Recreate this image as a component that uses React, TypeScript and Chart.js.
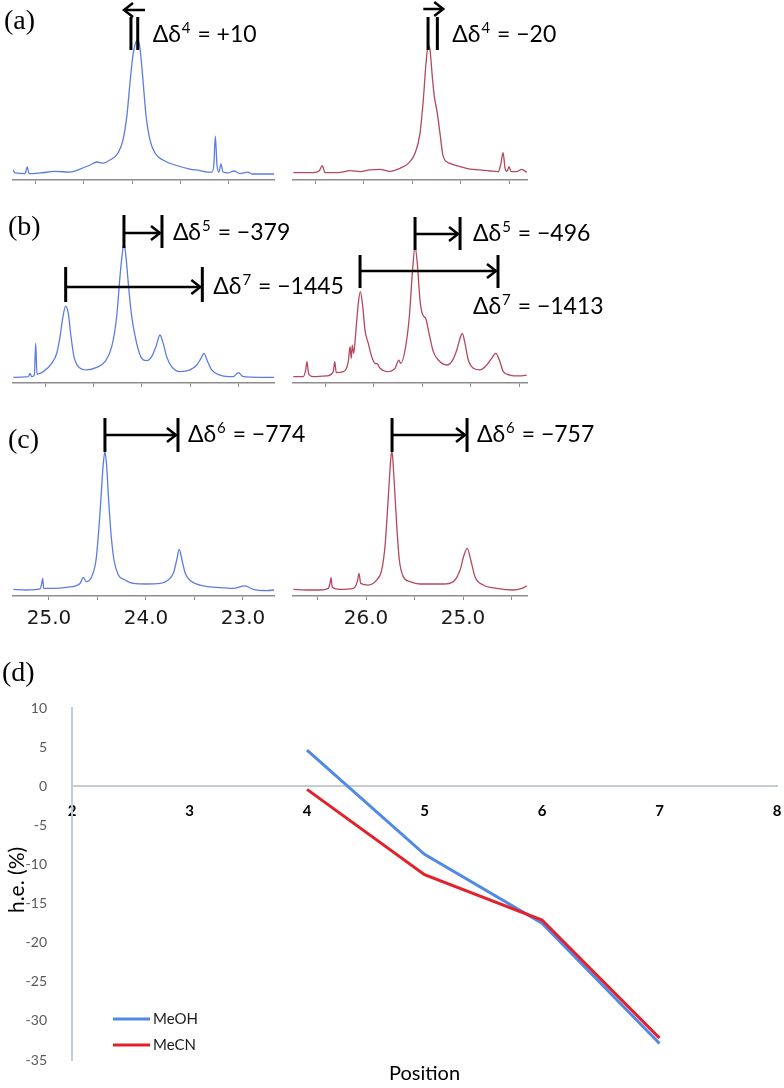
import React, { useEffect, useRef } from 'react';
import { Chart, registerables } from 'chart.js';

Chart.register(...registerables);

// ---------------- DATA ----------------
// (a) spectra: chemical shift (ppm) vs intensity (% of panel height)
const aBluePpm = [20.227, 20.206, 20.103, 20.080, 20.062, 19.949, 19.794, 19.639, 19.536, 19.433, 19.361, 19.299, 19.227, 19.144, 19.093, 19.052, 19.021, 18.990, 18.959, 18.938, 18.918, 18.887, 18.856, 18.815, 18.763, 18.681, 18.557, 18.402, 18.299, 18.227, 18.175, 18.155, 18.141, 18.124, 18.103, 18.083, 18.062, 18.010, 17.949, 17.887, 17.804, 17.763, 17.536];
const aBlueInt = [6.7, 4.7, 4.3, 8.7, 4.3, 4.7, 5.7, 5.3, 7.3, 10, 12, 11.3, 13.3, 18, 26.7, 43.3, 64.7, 83.3, 92, 93.3, 88, 66.7, 43.3, 26.7, 18, 13.3, 10, 7.3, 6.3, 5.3, 5.3, 11.3, 29.3, 10, 5.3, 10.7, 5.3, 4.7, 6, 4.3, 5.3, 4, 4];
const aRedPpm = [21.224, 21.018, 20.956, 20.925, 20.897, 20.742, 20.639, 20.536, 20.433, 20.330, 20.227, 20.124, 20.038, 19.969, 19.918, 19.884, 19.856, 19.832, 19.815, 19.791, 19.770, 19.739, 19.712, 19.678, 19.608, 19.505, 19.402, 19.299, 19.196, 19.111, 19.083, 19.062, 19.041, 19.021, 19.000, 18.980, 18.921, 18.869, 18.818];
const aRedInt = [4.9, 4.9, 6.2, 9.6, 4.9, 5.1, 6.2, 5.6, 6.7, 7.1, 5.8, 7.8, 11.1, 17.8, 31.1, 53.3, 77.8, 90, 86.7, 68.9, 55.6, 44.4, 31.1, 15.6, 11.1, 8.9, 7.3, 6.7, 6, 5.6, 11.1, 18.2, 7.8, 5.8, 8.9, 5.6, 5.6, 7.1, 5.1];

// (b) spectra
const bBluePpm = [30.327, 30.172, 30.155, 30.137, 30.110, 30.096, 30.083, 30.018, 29.931, 29.879, 29.845, 29.818, 29.787, 29.760, 29.732, 29.701, 29.657, 29.570, 29.467, 29.382, 29.312, 29.261, 29.227, 29.203, 29.186, 29.165, 29.141, 29.106, 29.055, 29.003, 28.952, 28.900, 28.856, 28.815, 28.781, 28.746, 28.694, 28.608, 28.505, 28.436, 28.392, 28.361, 28.327, 28.282, 28.196, 28.059, 28.007, 27.956, 27.784, 27.639];
const bBlueInt = [3.8, 4.2, 6.4, 4.2, 5.3, 26.4, 5.8, 7.6, 13.1, 19.8, 30.9, 43.1, 51.3, 46.4, 30.9, 17.6, 10.9, 8.7, 10.4, 14.2, 24.2, 44.2, 70.9, 86.4, 93.1, 84.2, 66.4, 44.2, 26.4, 16.4, 14.9, 17.6, 24.2, 32, 26.4, 17.6, 10.9, 7.6, 8.7, 12, 16.4, 19.8, 14.9, 8.7, 5.3, 4.2, 6.9, 4.2, 3.8, 3.8];
const bRedPpm = [31.327, 31.224, 31.199, 31.186, 31.168, 31.121, 30.983, 30.915, 30.900, 30.884, 30.811, 30.760, 30.742, 30.729, 30.719, 30.704, 30.681, 30.657, 30.636, 30.611, 30.588, 30.554, 30.519, 30.485, 30.461, 30.433, 30.364, 30.278, 30.240, 30.220, 30.175, 30.131, 30.100, 30.072, 30.049, 30.021, 29.993, 29.962, 29.928, 29.884, 29.832, 29.745, 29.684, 29.642, 29.608, 29.585, 29.557, 29.523, 29.471, 29.402, 29.333, 29.282, 29.240, 29.203, 29.162, 29.093, 28.990, 28.921];
const bRedInt = [4.2, 4.2, 8.7, 14.2, 6, 4.2, 4.7, 7.6, 14.2, 6.9, 7.6, 14.2, 24.2, 16.4, 25.3, 19.8, 35.3, 53.1, 60.9, 50.9, 35.3, 26.4, 17.6, 13.1, 12.7, 9.8, 7.6, 9.8, 15.3, 13.1, 22, 44.2, 73.1, 90.9, 79.8, 55.3, 45.3, 43.1, 33.1, 20.9, 15.3, 12, 15.3, 22, 29.8, 33.1, 26.4, 15.3, 9.8, 8.7, 12, 16.4, 19.8, 15.3, 7.6, 5.3, 4.7, 5.3];

// (c) spectra
const cBluePpm = [25.368, 25.230, 25.093, 25.075, 25.065, 25.055, 24.956, 24.817, 24.680, 24.646, 24.618, 24.560, 24.515, 24.484, 24.461, 24.440, 24.423, 24.405, 24.385, 24.361, 24.330, 24.285, 24.216, 24.131, 23.993, 23.856, 23.770, 23.718, 23.683, 23.657, 23.629, 23.595, 23.529, 23.409, 23.271, 23.100, 22.979, 22.894, 22.756, 22.680];
const cBlueInt = [4.4, 4, 4.7, 8.4, 11.8, 5.1, 5.1, 5.8, 8.4, 12.4, 9.6, 12.9, 24, 46.2, 68.4, 88.4, 96.2, 86.2, 64, 41.8, 24, 14, 10.7, 8.4, 8, 8.4, 10.7, 15.1, 24, 31.1, 24, 15.1, 9.6, 6.7, 5.8, 5.1, 6.7, 4.4, 3.6, 4];
const cRedPpm = [26.750, 26.612, 26.475, 26.389, 26.372, 26.361, 26.348, 26.268, 26.131, 26.090, 26.073, 26.055, 25.977, 25.890, 25.839, 25.805, 25.781, 25.760, 25.743, 25.732, 25.719, 25.701, 25.681, 25.657, 25.616, 25.547, 25.444, 25.307, 25.204, 25.100, 25.031, 24.990, 24.956, 24.921, 24.877, 24.791, 24.653, 24.482, 24.395, 24.344];
const cRedInt = [4.4, 4, 4, 5.1, 8.4, 12.2, 5.8, 4.4, 5.1, 9.6, 15.1, 8.4, 7.3, 10.7, 17.3, 32.9, 55.1, 77.3, 92.9, 96.2, 86.2, 66.2, 44, 24, 12.9, 9.6, 8, 8, 8, 9.6, 17.3, 27.3, 31.8, 24, 12.9, 7.3, 5.1, 4, 5.1, 6.7];

// axis ranges and tick values (ppm)
const aBlueRange = [17.536, 20.227];
const aRedRange = [18.815, 21.227];
const bBlueRange = [27.639, 30.330];
const bRedRange = [28.918, 31.330];
const cBlueRange = [22.680, 25.371];
const cRedRange = [24.341, 26.753];
const aBlueTicks = [20.0, 19.5, 19.0, 18.5, 18.0];
const aRedTicks = [21.0, 20.5, 20.0, 19.5, 19.0];
const bBlueTicks = [30.0, 29.5, 29.0, 28.5, 28.0];
const bRedTicks = [31.0, 30.5, 30.0, 29.5, 29.0];
const cBlueTicks = [25.0, 24.5, 24.0, 23.5, 23.0];
const cRedTicks = [26.5, 26.0, 25.5, 25.0, 24.5];

// shift annotations: marker positions (ppm) and labels
const aBlueMarks = [19.011, 18.941];
const aBlueArrow = [18.866, 19.103];
const aRedMarks = [19.835, 19.739];
const aRedArrow = [19.884, 19.658];
const bBlueMarks5 = [29.186, 28.794];
const bBlueMarks7 = [29.787, 28.378];
const bRedMarks5 = [30.072, 29.608];
const bRedMarks7 = [30.639, 29.217];
const cBlueMarks6 = [24.423, 23.670];
const cRedMarks6 = [25.732, 24.959];
const shiftSup = ['4', '4', '5', '7', '5', '7', '6', '6'];
const shiftValues = [' = +10', ' = \u221220', ' = \u2212379', ' = \u22121445', ' = \u2212496', ' = \u22121413', ' = \u2212774', ' = \u2212757'];

// (d) heavy-atom effect vs position
const positions = [4, 5, 6, 7];
const meohValues = [4.6, -8.7, -17.5, -32.9];
const mecnValues = [-0.4, -11.3, -17.1, -32.2];
const seriesNames = ['MeOH', 'MeCN'];
const yAxisTitle = 'h.e. (%)';

// ---------------- STYLE ----------------
const BLUE_SPEC = '#5b7de2';
const RED_SPEC = '#b4485f';
const LABEL_FONT = '23px Lato, "Noto Sans", sans-serif';
const SUP_FONT = '15px Lato, "Noto Sans", sans-serif';

type Shift = {
  bars: number[];
  arrow: number[];
  barTop: number;
  barBottom: number;
  arrowY: number;
  sup: string;
  value: string;
  labelDx: number;
  labelY: number;
};

function shiftPlugin(shifts: Shift[]) {
  return {
    id: 'shiftMarks',
    afterDatasetsDraw(chart: any) {
      const { ctx, chartArea } = chart;
      const sx = chart.scales.x;
      const top = chartArea.top;
      ctx.save();
      ctx.strokeStyle = '#000';
      ctx.fillStyle = '#000';
      ctx.lineCap = 'butt';
      shifts.forEach((s) => {
        const bx = s.bars.map((b) => sx.getPixelForValue(b));
        ctx.lineWidth = 3;
        bx.forEach((px) => {
          ctx.beginPath();
          ctx.moveTo(px, top + s.barTop);
          ctx.lineTo(px, top + s.barBottom);
          ctx.stroke();
        });
        const a0 = sx.getPixelForValue(s.arrow[0]);
        const a1 = sx.getPixelForValue(s.arrow[1]);
        const dir = a1 > a0 ? 1 : -1;
        const tip = a1 - dir * 2;
        const ay = top + s.arrowY;
        ctx.lineWidth = 2.5;
        ctx.beginPath();
        ctx.moveTo(a0, ay);
        ctx.lineTo(tip, ay);
        ctx.stroke();
        ctx.beginPath();
        ctx.moveTo(tip - dir * 9, ay - 7);
        ctx.lineTo(tip, ay);
        ctx.lineTo(tip - dir * 9, ay + 7);
        ctx.stroke();
        let lx = Math.max(...bx) + s.labelDx;
        const ly = top + s.labelY;
        ctx.textBaseline = 'middle';
        ctx.textAlign = 'left';
        ctx.font = LABEL_FONT;
        ctx.fillText('\u0394\u03b4', lx, ly);
        lx += ctx.measureText('\u0394\u03b4').width + 1;
        ctx.font = SUP_FONT;
        ctx.fillText(s.sup, lx, ly - 7);
        lx += ctx.measureText(s.sup).width + 1;
        ctx.font = LABEL_FONT;
        ctx.fillText(s.value, lx, ly);
      });
      ctx.restore();
    },
  };
}

type SpecCfg = {
  ppm: number[];
  int: number[];
  range: number[];
  ticks: number[];
  color: string;
  left: number;
  top: number;
  w: number;
  h: number;
  pad: { left: number; right: number; top: number; bottom: number };
  xh: number;
  labels: boolean;
  shifts: Shift[];
};

function Spectrum({ cfg }: { cfg: SpecCfg }) {
  const ref = useRef<HTMLCanvasElement>(null);
  useEffect(() => {
    const chart = new Chart(ref.current as HTMLCanvasElement, {
      type: 'line',
      data: {
        datasets: [
          {
            data: cfg.ppm.map((p, i) => ({ x: p, y: cfg.int[i] })),
            borderColor: cfg.color,
            borderWidth: 1.3,
            pointRadius: 0,
            cubicInterpolationMode: 'monotone',
            fill: false,
          } as any,
        ],
      },
      options: {
        responsive: false,
        animation: false,
        events: [],
        layout: { padding: cfg.pad, autoPadding: false },
        plugins: { legend: { display: false }, tooltip: { enabled: false } },
        scales: {
          x: {
            type: 'linear',
            reverse: true,
            min: cfg.range[0],
            max: cfg.range[1],
            position: 'bottom',
            afterBuildTicks: (s: any) => {
              s.ticks = cfg.ticks.map((v) => ({ value: v }));
            },
            afterFit: (s: any) => {
              s.height = cfg.xh;
              s.paddingLeft = 0;
              s.paddingRight = 0;
            },
            grid: { drawOnChartArea: false, drawTicks: true, tickLength: 4, color: '#8c8c8c', lineWidth: 1 },
            border: { display: true, color: '#8c8c8c', width: 1.5 },
            ticks: {
              display: cfg.labels,
              padding: 7,
              autoSkip: false,
              maxRotation: 0,
              color: '#1a1a1a',
              font: { family: '"DejaVu Sans", Verdana, sans-serif', size: 20 },
              callback: (v: any) => (Math.abs(Number(v) % 1) < 1e-6 ? Number(v).toFixed(1) : ''),
            },
          },
          y: { display: false, min: 0, max: 100 },
        },
      } as any,
      plugins: [shiftPlugin(cfg.shifts)],
    });
    return () => chart.destroy();
  }, []);
  return (
    <canvas
      ref={ref}
      width={cfg.w}
      height={cfg.h}
      style={{ position: 'absolute', left: cfg.left, top: cfg.top, width: cfg.w, height: cfg.h }}
    />
  );
}

const BLUE_BOX = { left: 0, w: 400, pad: { left: 13, right: 126, bottom: 0 } };
const RED_BOX = { left: 280, w: 504, pad: { left: 13, right: 257, bottom: 0 } };

const spectra: SpecCfg[] = [
  {
    ppm: aBluePpm, int: aBlueInt, range: aBlueRange, ticks: aBlueTicks, color: BLUE_SPEC,
    left: BLUE_BOX.left, top: 0, w: BLUE_BOX.w, h: 200, pad: { ...BLUE_BOX.pad, top: 30 }, xh: 20, labels: false,
    shifts: [{ bars: aBlueMarks, arrow: aBlueArrow, barTop: -13, barBottom: 20, arrowY: -20, sup: shiftSup[0], value: shiftValues[0], labelDx: 15, labelY: 5 }],
  },
  {
    ppm: aRedPpm, int: aRedInt, range: aRedRange, ticks: aRedTicks, color: RED_SPEC,
    left: RED_BOX.left, top: 0, w: RED_BOX.w, h: 200, pad: { ...RED_BOX.pad, top: 30 }, xh: 20, labels: false,
    shifts: [{ bars: aRedMarks, arrow: aRedArrow, barTop: -13, barBottom: 20, arrowY: -21, sup: shiftSup[1], value: shiftValues[1], labelDx: 15, labelY: 5 }],
  },
  {
    ppm: bBluePpm, int: bBlueInt, range: bBlueRange, ticks: bBlueTicks, color: BLUE_SPEC,
    left: BLUE_BOX.left, top: 200, w: BLUE_BOX.w, h: 200, pad: { ...BLUE_BOX.pad, top: 33 }, xh: 17, labels: false,
    shifts: [
      { bars: bBlueMarks5, arrow: bBlueMarks5, barTop: -18, barBottom: 15, arrowY: 0, sup: shiftSup[2], value: shiftValues[2], labelDx: 11, labelY: 0 },
      { bars: bBlueMarks7, arrow: bBlueMarks7, barTop: 34, barBottom: 69, arrowY: 54, sup: shiftSup[3], value: shiftValues[3], labelDx: 11, labelY: 54 },
    ],
  },
  {
    ppm: bRedPpm, int: bRedInt, range: bRedRange, ticks: bRedTicks, color: RED_SPEC,
    left: RED_BOX.left, top: 200, w: RED_BOX.w, h: 200, pad: { ...RED_BOX.pad, top: 33 }, xh: 17, labels: false,
    shifts: [
      { bars: bRedMarks5, arrow: bRedMarks5, barTop: -16, barBottom: 17, arrowY: 1, sup: shiftSup[4], value: shiftValues[4], labelDx: 13, labelY: 1 },
      { bars: bRedMarks7, arrow: bRedMarks7, barTop: 22, barBottom: 55, arrowY: 38, sup: shiftSup[5], value: shiftValues[5], labelDx: -25, labelY: 74 },
    ],
  },
  {
    ppm: cBluePpm, int: cBlueInt, range: cBlueRange, ticks: cBlueTicks, color: BLUE_SPEC,
    left: BLUE_BOX.left, top: 405, w: BLUE_BOX.w, h: 235, pad: { ...BLUE_BOX.pad, top: 41 }, xh: 44, labels: true,
    shifts: [{ bars: cBlueMarks6, arrow: cBlueMarks6, barTop: -28, barBottom: 6, arrowY: -11, sup: shiftSup[6], value: shiftValues[6], labelDx: 10, labelY: -11 }],
  },
  {
    ppm: cRedPpm, int: cRedInt, range: cRedRange, ticks: cRedTicks, color: RED_SPEC,
    left: RED_BOX.left, top: 405, w: RED_BOX.w, h: 235, pad: { ...RED_BOX.pad, top: 41 }, xh: 44, labels: true,
    shifts: [{ bars: cRedMarks6, arrow: cRedMarks6, barTop: -28, barBottom: 6, arrowY: -11, sup: shiftSup[7], value: shiftValues[7], labelDx: 10, labelY: -11 }],
  },
];

const insideLegend = {
  id: 'insideLegend',
  afterDraw(chart: any) {
    const { ctx, chartArea } = chart;
    ctx.save();
    chart.data.datasets.forEach((ds: any, i: number) => {
      const y = chartArea.top + 311 + i * 26;
      ctx.strokeStyle = ds.borderColor;
      ctx.lineWidth = 3;
      ctx.beginPath();
      ctx.moveTo(chartArea.left + 41, y);
      ctx.lineTo(chartArea.left + 78, y);
      ctx.stroke();
      ctx.fillStyle = '#1a1a1a';
      ctx.font = '15px Lato, sans-serif';
      ctx.textBaseline = 'middle';
      ctx.textAlign = 'left';
      ctx.fillText(ds.label, chartArea.left + 81, y);
    });
    // y-axis title, centred on the plot height
    ctx.translate(chartArea.left - 55, (chartArea.top + chartArea.bottom) / 2 - 4);
    ctx.rotate(-Math.PI / 2);
    ctx.fillStyle = '#000';
    ctx.font = '21px Lato, sans-serif';
    ctx.textAlign = 'center';
    ctx.textBaseline = 'middle';
    ctx.fillText(yAxisTitle, 0, 0);
    ctx.restore();
  },
};

function EffectChart() {
  const ref = useRef<HTMLCanvasElement>(null);
  useEffect(() => {
    const chart = new Chart(ref.current as HTMLCanvasElement, {
      type: 'line',
      data: {
        datasets: [
          {
            label: seriesNames[0],
            data: positions.map((p, i) => ({ x: p, y: meohValues[i] })),
            borderColor: '#4f8ae6',
            borderWidth: 3,
            pointRadius: 0,
            tension: 0,
            order: 1,
          },
          {
            label: seriesNames[1],
            data: positions.map((p, i) => ({ x: p, y: mecnValues[i] })),
            borderColor: '#e5202a',
            borderWidth: 3,
            pointRadius: 0,
            tension: 0,
            order: 0,
          },
        ],
      },
      options: {
        responsive: false,
        animation: false,
        events: [],
        layout: { padding: { top: 18, right: 7, left: 0, bottom: 0 }, autoPadding: false },
        plugins: { legend: { display: false }, tooltip: { enabled: false } },
        scales: {
          x: {
            type: 'linear',
            min: 2,
            max: 8,
            position: { y: 0 },
            grid: { display: false },
            border: { display: true, color: '#c4ccd4', width: 2 },
            ticks: { stepSize: 1, padding: 8, color: '#000', font: { family: 'Lato', size: 15, weight: 'bold' } },
            afterFit: (s: any) => {
              s.paddingLeft = 0;
              s.paddingRight = 0;
              s.paddingTop = 0;
              s.paddingBottom = 0;
            },
          },
          x2: {
            type: 'linear',
            min: 2,
            max: 8,
            position: 'bottom',
            grid: { display: false },
            border: { display: false },
            ticks: { display: false },
            title: { display: true, text: 'Position', color: '#000', font: { family: 'Lato', size: 20 }, padding: { top: 0, bottom: 2 } },
            afterFit: (s: any) => {
              s.height = 28;
              s.paddingLeft = 0;
              s.paddingRight = 0;
            },
          },
          y: {
            type: 'linear',
            min: -35,
            max: 10,
            grid: { display: false },
            border: { display: true, color: '#c4ccd4', width: 2 },
            ticks: { stepSize: 5, padding: 17, color: '#595959', font: { family: 'Lato', size: 14 } },
            afterFit: (s: any) => {
              s.width = 72;
              s.paddingTop = 0;
              s.paddingBottom = 0;
            },
          },
        },
      } as any,
      plugins: [insideLegend],
    });
    return () => chart.destroy();
  }, []);
  return (
    <canvas ref={ref} width={784} height={398} style={{ position: 'absolute', left: 0, top: 690, width: 784, height: 398 }} />
  );
}

const panelLetters = ['(a)', '(b)', '(c)', '(d)'];
const letterPos = [
  { left: 4, top: 4 },
  { left: 8, top: 210 },
  { left: 8, top: 423 },
  { left: 2, top: 656 },
];

export default function App() {
  return (
    <div style={{ position: 'absolute', left: 0, top: 0, width: 784, height: 1088, background: '#fff', overflow: 'hidden' }}>
      {spectra.map((cfg, i) => (
        <Spectrum key={i} cfg={cfg} />
      ))}
      <EffectChart />
      {panelLetters.map((t, i) => (
        <div
          key={t}
          style={{
            position: 'absolute',
            left: letterPos[i].left,
            top: letterPos[i].top,
            fontFamily: '"Liberation Serif", "Times New Roman", serif',
            fontSize: 28,
            lineHeight: '32px',
            color: '#000',
          }}
        >
          {t}
        </div>
      ))}
    </div>
  );
}
